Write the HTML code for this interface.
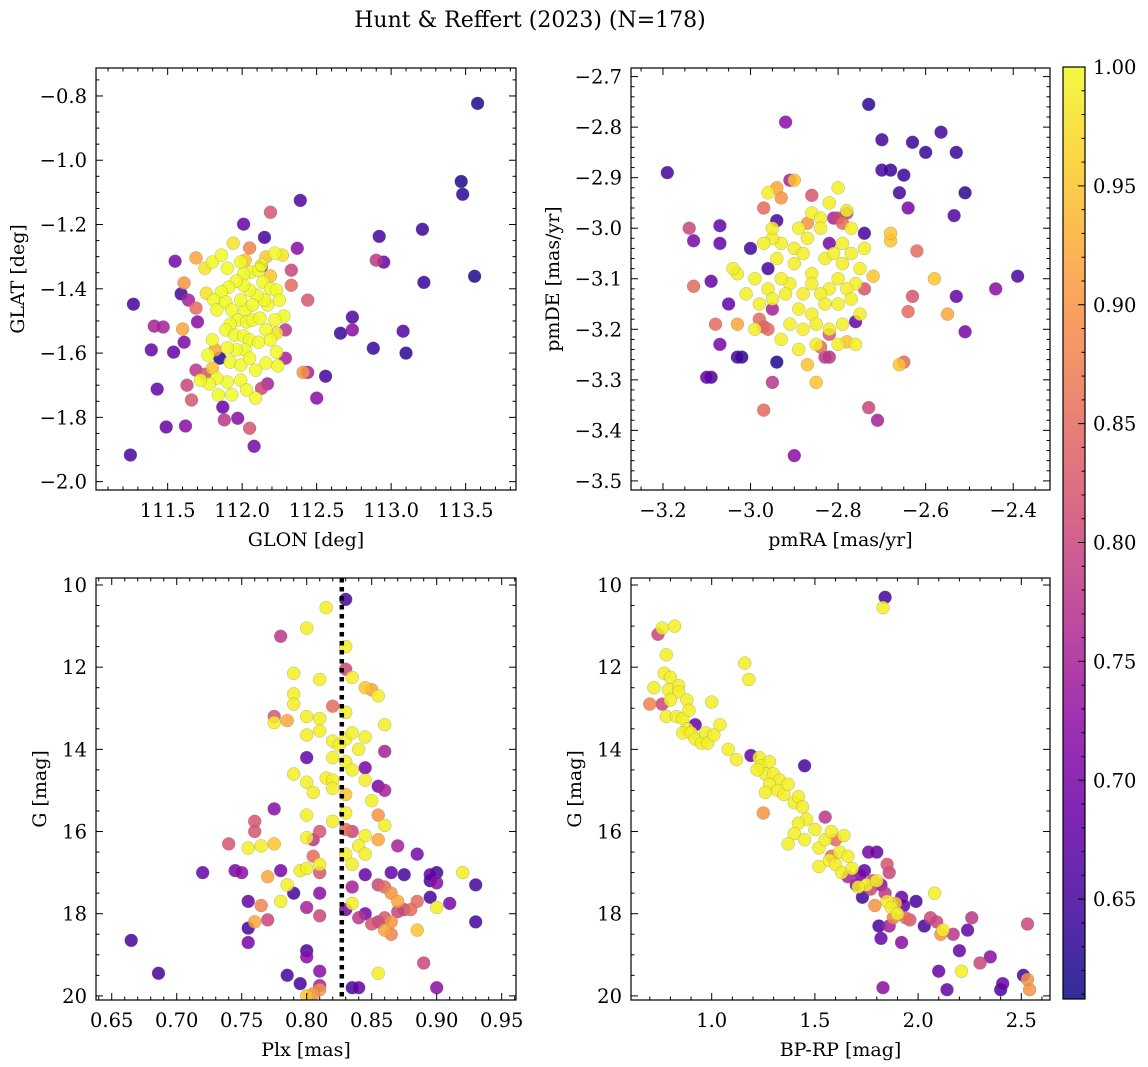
<!DOCTYPE html>
<html><head><meta charset="utf-8">
<style>
html,body{margin:0;padding:0;background:#fff;}
svg{display:block;}
svg text{font-family:"DejaVu Serif","Liberation Serif",serif;}
</style></head>
<body>
<svg id="fig" width="1148" height="1067" viewBox="0 0 1148 1067" xmlns="http://www.w3.org/2000/svg">
<text x="530" y="27" font-size="22" text-anchor="middle">Hunt &amp; Reffert (2023) (N=178)</text>
</svg>
<script>
// ---------- Panel 1: GLON / GLAT ----------
const p1Glon=[113.58,113.47,113.48,113.56,113.21,113.22,112.92,112.90,112.95,112.74,112.74,112.66,112.88,113.08,113.10,112.56,112.50,112.39,112.37,112.19,112.01,112.15,112.13,112.33,112.33,112.44,112.41,112.44,112.29,112.29,112.17,112.13,112.08,112.05,111.97,111.88,111.87,111.85,111.69,111.64,111.70,111.61,111.69,111.55,111.59,111.61,111.54,111.60,111.63,111.66,111.62,111.49,111.47,111.41,111.39,111.43,111.27,111.25,111.69,111.75,111.80,
111.75,111.80,111.86,111.90,111.94,111.99,112.02,112.06,112.01,112.11,112.14,112.19,112.19,112.23,112.25,112.28,112.22,112.17,112.15,112.10,112.05,112.01,111.96,111.91,111.86,111.81,111.76,111.83,111.89,111.93,111.97,112.02,112.03,111.92,111.89,111.95,112.01,112.05,112.11,112.16,112.19,112.23,112.02,111.96,111.90,111.80,111.77,111.82,111.92,111.99,112.05,112.09,112.16,112.23,112.24,111.99,111.90,111.83,111.84,111.93,112.03,112.09,111.78,111.72,112.07,112.12,111.99,112.07,112.13,112.22,112.05,112.16,112.27];
const p1Glat=[-0.823,-1.066,-1.106,-1.361,-1.215,-1.38,-1.237,-1.311,-1.317,-1.488,-1.528,-1.538,-1.585,-1.532,-1.60,-1.672,-1.74,-1.125,-1.274,-1.162,-1.199,-1.24,-1.33,-1.342,-1.389,-1.435,-1.66,-1.66,-1.528,-1.616,-1.696,-1.71,-1.89,-1.834,-1.803,-1.808,-1.768,-1.616,-1.46,-1.435,-1.503,-1.382,-1.304,-1.314,-1.416,-1.566,-1.597,-1.525,-1.70,-1.746,-1.827,-1.83,-1.519,-1.516,-1.59,-1.712,-1.448,-1.917,-1.653,-1.666,-1.647,
-1.336,-1.317,-1.295,-1.336,-1.258,-1.317,-1.311,-1.348,-1.354,-1.342,-1.379,-1.36,-1.40,-1.404,-1.435,-1.485,-1.497,-1.45,-1.435,-1.42,-1.404,-1.389,-1.376,-1.395,-1.41,-1.435,-1.414,-1.466,-1.441,-1.466,-1.497,-1.466,-1.503,-1.51,-1.528,-1.544,-1.547,-1.559,-1.566,-1.528,-1.559,-1.538,-1.59,-1.59,-1.584,-1.559,-1.606,-1.59,-1.628,-1.637,-1.616,-1.653,-1.631,-1.597,-1.64,-1.684,-1.69,-1.678,-1.73,-1.73,-1.715,-1.74,-1.696,-1.684,-1.497,-1.491,-1.435,-1.45,-1.326,-1.289,-1.273,-1.301,-1.295];
const p1Prob=[0.62,0.62,0.63,0.62,0.64,0.64,0.65,0.78,0.68,0.66,0.72,0.64,0.64,0.66,0.63,0.65,0.72,0.66,0.72,0.82,0.68,0.65,0.66,0.80,0.85,0.82,0.90,0.75,0.78,0.75,0.75,0.80,0.70,0.82,0.72,0.78,0.68,0.62,0.85,0.75,0.72,0.90,0.92,0.70,0.65,0.70,0.68,0.92,0.80,0.82,0.72,0.68,0.75,0.75,0.68,0.68,0.65,0.65,0.78,0.82,0.95,
0.98,1,1,1,0.98,1,0.95,1,1,1,1,0.95,1,1,1,1,1,1,1,1,1,1,1,1,1,1,0.98,1,1,1,1,1,1,1,1,1,1,1,1,1,1,0.98,1,1,1,1,1,0.92,1,1,1,1,1,1,1,1,1,1,1,1,1,1,1,1,1,1,1,1,1,1,0.88,0.95,0.98,1,0.98];
const p1XTicks=[111.5,112.0,112.5,113.0,113.5];
const p1YTicks=[-0.8,-1.0,-1.2,-1.4,-1.6,-1.8,-2.0];

// ---------- Panel 2: pmRA / pmDE ----------
const p2PmRA=[-3.19,-2.73,-2.70,-2.565,-2.63,-2.60,-2.53,-2.70,-2.68,-2.65,-2.51,-2.66,-2.64,-2.535,-2.39,-2.44,-2.53,-2.51,-2.71,-2.73,-2.63,-2.64,-2.65,-2.66,-2.55,-2.58,-2.62,-2.68,-2.68,-2.92,-2.90,-2.97,-2.95,-2.94,-2.85,-2.82,-2.87,-3.03,-3.02,-3.10,-3.09,-3.07,-3.05,-3.08,-3.03,-3.13,-3.09,-3.14,-3.13,-3.07,-3.07,-3.00,-2.96,-2.94,-2.86,-2.74,-2.74,-2.72,-2.76,-2.78,-2.82,-2.84,-2.83,-2.95,-2.96,-2.97,
-2.96,-2.94,-2.93,-2.91,-2.90,-2.86,-2.84,-2.82,-2.80,-2.78,-2.79,-2.80,-2.77,-2.79,-2.82,-2.84,-2.87,-2.89,-2.90,-2.93,-2.95,-2.97,-2.94,-2.90,-2.88,-2.86,-2.83,-2.81,-2.79,-2.77,-2.75,-2.74,-2.76,-2.78,-2.80,-2.82,-2.84,-2.86,-2.88,-2.91,-2.93,-2.96,-2.99,-3.01,-3.03,-3.04,-2.98,-2.95,-2.92,-2.89,-2.86,-2.83,-2.80,-2.77,-2.75,-2.79,-2.82,-2.85,-2.88,-2.91,-2.93,-2.89,-2.85,-2.80,-2.76,-2.99,-2.98,-2.97,-2.87,-2.81,-2.78,-2.95];
const p2PmDE=[-2.89,-2.755,-2.825,-2.81,-2.83,-2.85,-2.85,-2.885,-2.885,-2.895,-2.93,-2.93,-2.96,-2.975,-3.095,-3.12,-3.135,-3.205,-3.38,-3.355,-3.135,-3.165,-3.265,-3.27,-3.17,-3.10,-3.045,-3.025,-3.01,-2.79,-3.45,-3.36,-3.305,-3.265,-3.305,-3.255,-3.27,-3.255,-3.255,-3.295,-3.295,-3.23,-3.15,-3.19,-3.19,-3.115,-3.105,-3.0,-3.025,-2.995,-3.03,-3.04,-3.08,-2.985,-2.935,-3.01,-3.12,-3.095,-3.185,-3.225,-3.21,-3.235,-3.255,-3.16,-3.20,-3.195,
-2.93,-2.92,-2.94,-2.905,-2.905,-2.97,-2.98,-2.95,-2.92,-2.965,-2.99,-2.98,-3.0,-3.03,-3.03,-3.0,-3.02,-3.0,-3.04,-3.03,-3.02,-3.03,-3.06,-3.07,-3.05,-3.09,-3.06,-3.05,-3.07,-3.05,-3.08,-3.04,-3.11,-3.12,-3.10,-3.12,-3.13,-3.11,-3.13,-3.11,-3.10,-3.12,-3.10,-3.13,-3.09,-3.08,-3.15,-3.14,-3.13,-3.16,-3.17,-3.15,-3.15,-3.14,-3.17,-3.19,-3.20,-3.19,-3.20,-3.19,-3.22,-3.24,-3.23,-3.23,-3.23,-3.20,-3.18,-2.96,-2.99,-2.98,-2.97,-3.00];
const p2Prob=[0.65,0.63,0.65,0.65,0.64,0.64,0.64,0.65,0.64,0.64,0.63,0.65,0.70,0.66,0.66,0.72,0.68,0.70,0.75,0.80,0.82,0.85,0.85,0.95,0.92,0.95,0.85,0.95,0.95,0.72,0.72,0.85,0.78,0.62,0.95,0.78,0.95,0.65,0.63,0.68,0.65,0.70,0.68,0.85,0.92,0.85,0.68,0.80,0.70,0.68,0.68,0.65,0.65,0.65,0.82,0.65,0.82,0.95,0.68,0.95,0.82,0.85,0.78,0.75,0.85,0.82,
0.99,0.92,0.90,0.75,0.95,0.99,0.99,0.99,0.99,0.99,0.85,0.80,0.99,0.99,0.70,0.99,0.99,0.99,0.99,0.99,0.99,0.99,0.99,0.99,0.99,0.99,0.99,0.99,0.99,0.99,0.99,0.99,0.99,0.99,0.99,0.99,0.99,0.99,0.99,0.99,0.99,0.99,0.99,0.99,0.99,0.99,0.99,0.99,0.99,0.99,0.99,0.99,0.99,0.99,0.99,0.99,0.99,0.99,0.99,0.99,0.99,0.99,0.99,0.99,0.99,0.99,0.85,0.85,0.90,0.75,0.78,0.99];
const p2XTicks=[-3.2,-3.0,-2.8,-2.6,-2.4];
const p2YTicks=[-2.7,-2.8,-2.9,-3.0,-3.1,-3.2,-3.3,-3.4,-3.5];

// ---------- Panel 3: Plx / G ----------
const p3Plx=[0.815,0.83,0.80,0.83,0.78,0.83,0.835,0.81,0.79,0.845,0.85,0.855,0.82,0.79,0.79,0.775,0.785,0.775,0.80,0.81,0.83,0.86,0.81,0.82,0.83,0.825,0.835,0.845,0.80,0.84,0.86,0.82,0.83,0.845,0.835,0.80,0.79,0.80,0.815,0.82,0.845,0.855,0.86,0.82,0.83,0.805,0.85,0.775,0.80,0.83,0.855,0.82,0.83,0.835,0.81,0.805,0.80,0.845,0.855,0.86,0.87,0.885,0.84,0.83,0.845,0.835,0.81,0.795,0.81,0.78,0.76,0.76,0.765,0.755,0.74,0.775,0.72,0.745,0.75,0.77,0.785,0.81,0.835,0.845,0.855,0.86,0.865,0.87,0.875,0.865,0.875,0.895,0.90,0.92,0.895,0.90,0.93,0.895,0.91,0.90,0.885,0.88,0.87,0.865,0.86,0.855,0.845,0.83,0.835,0.86,0.865,0.885,0.93,0.89,0.90,0.79,0.80,0.81,0.78,0.765,0.77,0.76,0.755,0.755,0.755,0.80,0.80,0.81,0.785,0.795,0.81,0.81,0.835,0.84,0.855,0.665,0.686,0.80,0.805,0.84,0.85,0.805,0.80];
const p3G=[10.55,10.35,11.05,11.5,11.25,12.05,12.25,12.3,12.15,12.5,12.55,12.7,12.95,12.65,12.9,13.2,13.3,13.35,13.2,13.25,13.1,13.4,13.55,13.8,13.75,13.9,13.6,13.7,13.65,14.0,14.05,14.2,14.3,14.45,14.5,14.2,14.6,14.8,14.7,14.75,14.75,14.9,15.0,14.95,15.1,15.05,15.25,15.45,15.6,15.55,15.6,15.75,15.95,16.0,16.0,16.2,16.15,16.1,16.2,15.85,16.35,16.55,16.35,16.55,16.55,16.8,16.8,16.95,17.0,16.95,15.75,16.0,16.35,16.4,16.3,16.3,17.0,16.95,17.0,17.1,17.3,17.5,17.35,17.05,17.3,17.35,17.5,17.7,17.9,17.0,17.05,17.05,17.0,17.0,17.2,17.25,17.3,17.6,17.75,17.85,17.7,17.9,17.95,18.2,18.1,18.2,18.0,17.9,17.75,18.4,18.5,18.4,18.2,19.2,19.8,17.5,17.85,18.05,17.7,17.8,18.15,18.2,17.7,18.35,18.7,18.9,19.05,19.4,19.5,19.7,19.75,19.85,19.8,19.8,19.45,18.65,19.45,20.0,19.95,18.1,18.25,16.6,16.9];
const p3Prob=[0.99,0.65,0.99,0.99,0.78,0.80,0.99,0.99,0.99,0.95,0.92,0.99,0.85,0.99,0.99,0.82,0.92,0.99,0.99,0.99,0.99,0.99,0.99,0.99,0.99,0.99,0.99,0.99,0.99,0.99,0.75,0.99,0.99,0.70,0.99,0.68,0.99,0.99,0.99,0.99,0.99,0.70,0.75,0.99,0.95,0.99,0.99,0.72,0.99,0.99,0.90,0.99,0.85,0.80,0.82,0.78,0.99,0.99,0.92,0.99,0.75,0.70,0.99,0.99,0.99,0.99,0.99,0.99,0.82,0.70,0.82,0.82,0.99,0.99,0.82,0.95,0.68,0.70,0.72,0.92,0.99,0.72,0.75,0.68,0.80,0.85,0.90,0.92,0.80,0.68,0.65,0.68,0.65,0.99,0.65,0.72,0.65,0.65,0.70,0.99,0.85,0.85,0.80,0.90,0.82,0.78,0.70,0.70,0.99,0.92,0.88,0.95,0.65,0.80,0.72,0.65,0.75,0.80,0.99,0.88,0.80,0.92,0.68,0.65,0.70,0.65,0.72,0.72,0.65,0.65,0.75,0.90,0.65,0.68,0.99,0.65,0.65,0.95,0.90,0.78,0.82,0.85,0.99];
const p3XTicks=[0.65,0.70,0.75,0.80,0.85,0.90,0.95];
const p3YTicks=[10,12,14,16,18,20];
const p3RefPlx=0.827;

// ---------- Panel 4: BP-RP / G ----------
const p4Color=[0.74,0.76,0.82,0.78,0.72,0.70,0.77,0.80,0.79,0.76,0.78,0.84,0.84,0.80,0.83,0.86,0.88,0.89,0.92,0.88,0.86,0.90,0.92,0.95,0.97,0.98,1.0,1.01,1.04,1.08,1.12,1.16,1.18,1.19,1.23,1.24,1.26,1.22,1.28,1.30,1.33,1.28,1.26,1.25,1.32,1.35,1.37,1.40,1.42,1.45,1.44,1.46,1.42,1.40,1.37,1.45,1.50,1.52,1.55,1.52,1.57,1.55,1.58,1.60,1.62,1.60,1.63,1.64,1.66,1.68,1.66,1.70,1.72,1.74,1.75,1.73,1.77,1.76,1.80,1.79,1.81,1.82,1.80,1.84,1.85,1.86,1.85,1.87,1.89,1.90,1.88,1.86,1.92,1.93,1.94,1.96,1.99,1.92,2.03,2.06,2.08,2.09,2.11,2.12,2.10,2.14,2.17,2.20,2.21,2.24,2.26,2.30,2.35,2.40,2.41,2.51,2.53,2.54,2.53,1.84,1.83,1.83,1.82,1.78,1.71,1.58];
const p4G=[11.2,11.05,11.0,11.7,12.5,12.9,12.15,12.25,12.55,12.9,13.2,12.45,12.6,12.8,13.2,13.25,12.8,13.05,13.4,13.5,13.6,13.6,13.75,13.85,13.6,13.85,12.85,13.65,13.4,14.0,14.25,11.9,12.3,14.15,14.2,14.4,14.6,14.5,14.3,14.6,14.75,14.85,15.05,15.55,15.0,15.1,14.85,15.3,15.15,14.4,15.4,15.7,15.8,16.05,16.3,16.2,15.95,16.4,16.2,16.85,16.7,15.65,16.0,16.2,16.5,16.8,17.0,16.1,16.6,16.9,17.1,17.3,17.05,16.95,17.3,17.6,17.4,16.5,16.5,17.8,18.3,18.6,17.2,17.5,16.8,17.0,17.7,17.85,17.75,18.0,18.1,18.3,17.6,17.8,18.1,18.15,17.7,18.7,18.3,18.1,17.5,18.2,18.5,18.4,19.4,19.85,18.5,18.9,19.4,18.4,18.1,19.2,19.05,19.85,19.7,19.5,18.25,19.85,19.6,10.3,10.55,19.8,17.3,17.2,17.35,16.6];
const p4Prob=[0.80,0.99,0.99,0.99,0.99,0.88,0.99,0.99,0.99,0.80,0.99,0.99,0.99,0.99,0.99,0.99,0.99,0.99,0.68,0.99,0.99,0.99,0.99,0.99,0.99,0.99,0.99,0.99,0.99,0.99,0.99,0.99,0.99,0.68,0.99,0.99,0.99,0.99,0.99,0.99,0.99,0.99,0.99,0.90,0.99,0.99,0.99,0.99,0.99,0.65,0.99,0.99,0.99,0.99,0.99,0.99,0.99,0.99,0.99,0.99,0.99,0.78,0.99,0.85,0.99,0.99,0.99,0.99,0.99,0.99,0.75,0.72,0.70,0.68,0.99,0.65,0.80,0.70,0.68,0.90,0.65,0.68,0.99,0.78,0.82,0.80,0.99,0.99,0.95,0.99,0.88,0.75,0.68,0.68,0.85,0.82,0.65,0.72,0.65,0.80,0.99,0.80,0.90,0.99,0.68,0.68,0.78,0.68,0.99,0.68,0.78,0.80,0.72,0.65,0.68,0.65,0.80,0.90,0.90,0.65,0.99,0.72,0.72,0.82,0.99,0.85];
const p4XTicks=[1.0,1.5,2.0,2.5];
const p4YTicks=[10,12,14,16,18,20];

const cbTicks=[0.65,0.70,0.75,0.80,0.85,0.90,0.95,1.00];
const cbMin=0.608, cbMax=1.0;

const NS="http://www.w3.org/2000/svg";
const svg=document.getElementById('fig');
function mk(tag,attrs,parent){const e=document.createElementNS(NS,tag);for(const k in attrs)e.setAttribute(k,attrs[k]);(parent||svg).appendChild(e);return e;}

const plasma=[[0,13,8,135],[0.1,65,4,157],[0.2,106,0,168],[0.3,143,13,164],[0.4,177,42,144],[0.5,204,71,120],[0.6,225,100,98],[0.7,242,132,75],[0.8,252,166,54],[0.9,252,206,37],[1,240,249,33]];
function cmap(v){let t=(v-cbMin)/(cbMax-cbMin);t=Math.max(0,Math.min(1,t));
 for(let i=0;i<plasma.length-1;i++){const a=plasma[i],b=plasma[i+1];if(t<=b[0]){const f=(t-a[0])/(b[0]-a[0]);return `rgb(${Math.round(a[1]+f*(b[1]-a[1]))},${Math.round(a[2]+f*(b[2]-a[2]))},${Math.round(a[3]+f*(b[3]-a[3]))})`;}}
 return 'rgb(240,249,33)';}
function fmt(v,d){const s=Math.abs(v).toFixed(d);return (v<0?'\u2212':'')+s;}

const TF=19.5, LF=19;
function panel(cfg){
 const g=mk('g',{});
 
 
 const {x0,x1,y0,y1,xmin,xmax,ymin,ymax}=cfg;
 const sx=v=>x0+(v-xmin)/(xmax-xmin)*(x1-x0);
 const inv=!!cfg.invert;
 const sy=v=>inv ? (y0+(v-ymin)/(ymax-ymin)*(y1-y0)) : (y0+(ymax-v)/(ymax-ymin)*(y1-y0));
 const cp='cp_'+cfg.name;
 const defs=mk('defs',{},g);const c=mk('clipPath',{id:cp},defs);mk('rect',{x:x0,y:y0,width:x1-x0,height:y1-y0},c);
 const pts=mk('g',{'clip-path':`url(#${cp})`},g);
 
 
 const idx=cfg.xs.map((_,i)=>i).sort((a,b)=>cfg.p[a]-cfg.p[b]);
 idx.forEach(i=>{
  const ci=mk('circle',{cx:sx(cfg.xs[i]).toFixed(1),cy:sy(cfg.ys[i]).toFixed(1),r:6.5,fill:cmap(cfg.p[i]),'fill-opacity':0.85,stroke:'#777','stroke-opacity':0.5,'stroke-width':0.5},pts);
  
  
 });
 if(cfg.refLine!==undefined){
  const l=mk('line',{x1:sx(cfg.refLine),x2:sx(cfg.refLine),y1:y0,y2:y1,stroke:'#000','stroke-width':4.5,'stroke-dasharray':'4.5,4.5'},pts);
  
  
 }
 const tk=mk('g',{stroke:'#000','stroke-width':1},g);
 const ev=(a,b)=>Math.abs(a-b)<1e-6;
 const nx=Math.ceil(xmin/cfg.xminor-1e-9);
 for(let k=nx;k*cfg.xminor<=xmax+1e-9;k++){const v=k*cfg.xminor;
  const X=sx(v);const maj=cfg.xticks.some(t=>ev(t,v));const L=maj?7:3.5;
  mk('line',{x1:X,x2:X,y1:y1,y2:y1-L},tk);mk('line',{x1:X,x2:X,y1:y0,y2:y0+L},tk);}
 const ny=Math.ceil(ymin/cfg.yminor-1e-9);
 for(let k=ny;k*cfg.yminor<=ymax+1e-9;k++){const v=k*cfg.yminor;
  const Y=sy(v);const maj=cfg.yticks.some(t=>ev(t,v));const L=maj?7:3.5;
  mk('line',{x1:x0,x2:x0+L,y1:Y,y2:Y},tk);mk('line',{x1:x1,x2:x1-L,y1:Y,y2:Y},tk);}
 const fr=mk('rect',{x:x0,y:y0,width:x1-x0,height:y1-y0,fill:'none',stroke:'#000','stroke-width':1.2},g);
 
 
 cfg.xticks.forEach(v=>{const t=mk('text',{x:sx(v),y:y1+27,'font-size':TF,'text-anchor':'middle'},g);t.textContent=fmt(v,cfg.xd);
  
  });
 cfg.yticks.forEach(v=>{const t=mk('text',{x:x0-9,y:sy(v)+7,'font-size':TF,'text-anchor':'end'},g);t.textContent=fmt(v,cfg.yd);
  
  });
 const xl=mk('text',{x:(x0+x1)/2,y:y1+56,'font-size':LF,'text-anchor':'middle'},g);xl.textContent=cfg.xlabel;
 
 
 const yl=mk('text',{x:cfg.ylx,y:(y0+y1)/2,'font-size':LF,'text-anchor':'middle',transform:`rotate(-90 ${cfg.ylx} ${(y0+y1)/2})`},g);yl.textContent=cfg.ylabel;
 
 
}

panel({name:'panel-glon-glat',x0:96,x1:516,y0:68,y1:490,xmin:111.019,xmax:113.838,ymin:-2.026,ymax:-0.713,xs:p1Glon,ys:p1Glat,p:p1Prob,xticks:p1XTicks,yticks:p1YTicks,xminor:0.1,yminor:0.05,xd:1,yd:1,xlabel:'GLON [deg]',ylabel:'GLAT [deg]',ylx:24});
panel({name:'panel-pm',x0:631,x1:1050,y0:68,y1:490,xmin:-3.273,xmax:-2.316,ymin:-3.518,ymax:-2.683,xs:p2PmRA,ys:p2PmDE,p:p2Prob,xticks:p2XTicks,yticks:p2YTicks,xminor:0.05,yminor:0.02,xd:1,yd:1,xlabel:'pmRA [mas/yr]',ylabel:'pmDE [mas/yr]',ylx:559});
panel({name:'panel-plx-g',x0:96,x1:516,y0:578,y1:1000,xmin:0.6379,xmax:0.961,ymin:9.83,ymax:20.1,invert:true,xs:p3Plx,ys:p3G,p:p3Prob,xticks:p3XTicks,yticks:p3YTicks,xminor:0.01,yminor:0.5,xd:2,yd:0,xlabel:'Plx [mas]',ylabel:'G [mag]',ylx:46,refLine:p3RefPlx});
panel({name:'panel-cmd',x0:631,x1:1050,y0:578,y1:1000,xmin:0.609,xmax:2.639,ymin:9.83,ymax:20.1,invert:true,xs:p4Color,ys:p4G,p:p4Prob,xticks:p4XTicks,yticks:p4YTicks,xminor:0.1,yminor:0.5,xd:1,yd:0,xlabel:'BP-RP [mag]',ylabel:'G [mag]',ylx:581});

// Colorbar
(function(){
 const cb=mk('g',{});
 
 
 const x0=1063,x1=1085,y0=67,y1=999;
 const defs=mk('defs',{},cb);
 const lg=mk('linearGradient',{id:'cbgrad',x1:0,y1:1,x2:0,y2:0},defs);
 for(let i=0;i<=20;i++){const v=cbMin+(cbMax-cbMin)*i/20;mk('stop',{offset:(i/20),'stop-color':cmap(v),'stop-opacity':0.85},lg);}
 mk('rect',{x:x0,y:y0,width:x1-x0,height:y1-y0,fill:'url(#cbgrad)',stroke:'#000','stroke-width':1.2},cb);
 const sy=v=>y1-(v-cbMin)/(cbMax-cbMin)*(y1-y0);
 for(let k=Math.ceil(cbMin*100);k<=Math.round(cbMax*100);k++){const v=k/100;
  const maj=cbTicks.some(t=>Math.abs(t-v)<1e-6);const Y=sy(v);
  mk('line',{x1:x1,x2:x1-(maj?7:3.5),y1:Y,y2:Y,stroke:'#000','stroke-width':1},cb);}
 cbTicks.forEach(v=>{const t=mk('text',{x:x1+8,y:sy(v)+7,'font-size':TF},cb);t.textContent=v.toFixed(2);
  
  });
})();
</script>
</body></html>
